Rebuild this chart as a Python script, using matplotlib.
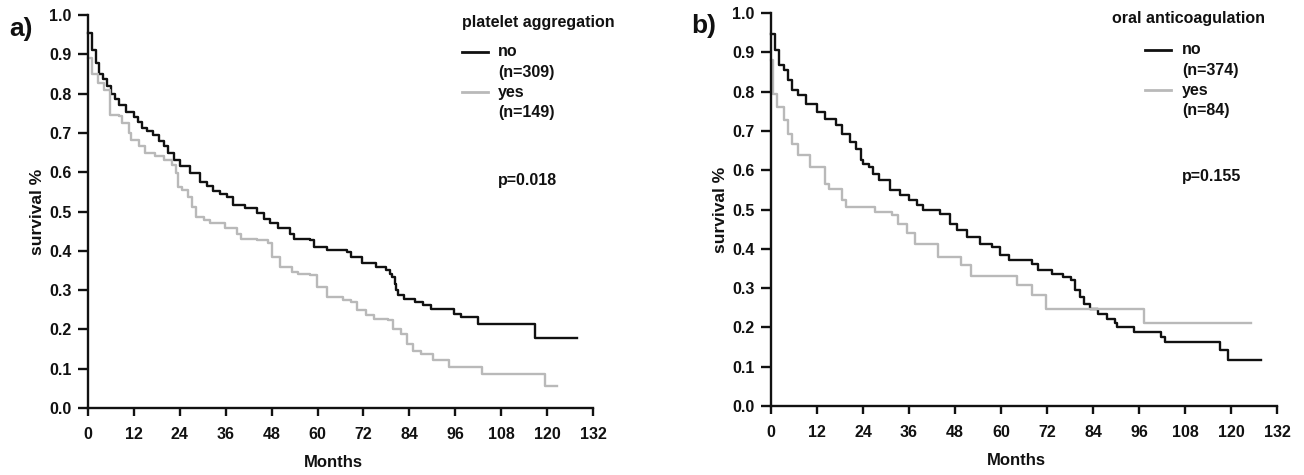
import numpy as np
import matplotlib
matplotlib.use("Agg")
import matplotlib.pyplot as plt

plt.rcParams['font.family'] = ['Liberation Sans', 'DejaVu Sans']
plt.rcParams['font.weight'] = 'bold'

W, H = 1304, 475

# ---- data (months, survival) ----
xticks = [0, 12, 24, 36, 48, 60, 72, 84, 96, 108, 120, 132]
yticks = [0.0, 0.1, 0.2, 0.3, 0.4, 0.5, 0.6, 0.7, 0.8, 0.9, 1.0]

# a) platelet aggregation
months_a_no = [0, 1, 2, 3, 4, 5, 6, 7, 8, 10, 12, 13, 14, 15.5, 17,
               18.5, 19.8, 20.8, 22.4, 24, 26.7, 29.4, 31, 32.6, 34.5,
               36.3, 38, 41, 44.3, 46, 47.5, 49.6, 52.8, 53.9, 58,
               59.2, 62.4, 67.8, 68.8, 71.5, 75.2, 77.9, 79, 79.5, 80.2,
               80.6, 81.1, 82.7, 85.4, 87.5, 89.7, 95.6, 97.6, 101.9, 116.8,
               127.7]
surv_a_no = [0.955, 0.91, 0.878, 0.85, 0.836, 0.82, 0.80, 0.785, 0.77, 0.752,
             0.74, 0.728, 0.712, 0.704, 0.695, 0.68, 0.666, 0.648, 0.631, 0.615,
             0.597, 0.576, 0.565, 0.551, 0.545, 0.538, 0.517, 0.508, 0.495, 0.48,
             0.47, 0.457, 0.444, 0.431, 0.427, 0.41, 0.402, 0.397, 0.385, 0.368,
             0.359, 0.351, 0.34, 0.334, 0.315, 0.30, 0.287, 0.278, 0.27, 0.261,
             0.253, 0.24, 0.231, 0.214, 0.179, 0.179]
months_a_yes = [0, 1, 2.7, 4.3, 5.7, 8, 9, 10.7, 11.2, 13.3,
                15, 17.6, 19.8, 22, 23, 23.5, 24.5, 26.2, 27.2, 28.3,
                30.4, 32, 35.8, 39, 40, 44.3, 47, 48, 50.2, 53.4,
                55, 58, 59.8, 62.4, 66.7, 68.8, 70.4, 72.6, 74.7, 78.5,
                79.6, 81.7, 83.3, 84.9, 87.1, 90.2, 94.4, 103, 119.5, 122.7]
surv_a_yes = [0.89, 0.85, 0.827, 0.81, 0.746, 0.742, 0.725, 0.70, 0.683, 0.666,
              0.649, 0.64, 0.631, 0.619, 0.597, 0.563, 0.555, 0.538, 0.512, 0.487,
              0.478, 0.47, 0.457, 0.444, 0.431, 0.427, 0.419, 0.385, 0.359, 0.346,
              0.342, 0.338, 0.308, 0.283, 0.274, 0.27, 0.249, 0.236, 0.227, 0.223,
              0.202, 0.189, 0.163, 0.146, 0.138, 0.121, 0.104, 0.087, 0.057, 0.057]

# b) oral anticoagulation
months_b_no = [0, 1.1, 2.2, 3.3, 4.4, 5.4, 7.1, 9.2, 12, 14.1,
               16.9, 18.5, 20.7, 22.3, 23.4, 24, 25.6, 26.7, 28.3, 31,
               33.7, 35.9, 38.1, 39.7, 44.1, 46.8, 48.4, 51.1, 54.4, 57.7,
               59.8, 62, 68, 69.6, 73.4, 76.2, 78.3, 79.4, 80.5, 81.6,
               83.2, 85.4, 87.6, 89.8, 90.3, 94.7, 101.7, 102.8, 117, 119.1,
               127.9]
surv_b_no = [0.947, 0.905, 0.867, 0.854, 0.829, 0.803, 0.791, 0.769, 0.748, 0.731,
             0.714, 0.693, 0.672, 0.655, 0.625, 0.617, 0.608, 0.591, 0.574, 0.549,
             0.536, 0.524, 0.511, 0.498, 0.489, 0.464, 0.447, 0.43, 0.413, 0.405,
             0.384, 0.371, 0.362, 0.345, 0.337, 0.328, 0.32, 0.294, 0.277, 0.26,
             0.248, 0.235, 0.222, 0.21, 0.201, 0.188, 0.176, 0.163, 0.142, 0.116,
             0.116]
months_b_yes = [0, 0.5, 1.6, 3.3, 4.4, 5.4, 7.1, 10.3, 14.1, 15.2,
                18.5, 19.6, 27.2, 31.6, 33.2, 35.4, 37.5, 43.5, 49.5, 52.2,
                64.2, 68, 71.8, 97.4, 125.1]
surv_b_yes = [0.88, 0.795, 0.761, 0.727, 0.693, 0.667, 0.638, 0.608, 0.566, 0.553,
              0.524, 0.507, 0.494, 0.486, 0.464, 0.439, 0.413, 0.379, 0.358, 0.332,
              0.307, 0.282, 0.248, 0.21, 0.21]

groups = ["no", "yes"]
titles = ["platelet aggregation", "oral anticoagulation"]
n_a = [309, 149]
n_b = [374, 84]
pvals = ["p=0.018", "p=0.155"]
panel_tags = ["a)", "b)"]

BLACK = "#111111"
GREY = "#b9b9b9"


def fx(x):
    return x / W


def fy(y):
    return 1 - y / H


def style_axes(ax):
    ax.set_xlim(0, 132)
    ax.set_ylim(0, 1)
    ax.set_xticks(xticks)
    ax.set_yticks(yticks)
    ax.set_yticklabels([f"{v:.1f}" for v in yticks])
    for s in ["top", "right"]:
        ax.spines[s].set_visible(False)
    for s in ["left", "bottom"]:
        ax.spines[s].set_linewidth(1.7)
        ax.spines[s].set_color(BLACK)
    ax.tick_params(axis="both", direction="out", width=1.7, color=BLACK,
                   labelsize=11.5, labelcolor=BLACK)
    ax.tick_params(axis="x", length=6, pad=8)
    ax.tick_params(axis="y", length=7, pad=5)
    for lab in ax.get_xticklabels() + ax.get_yticklabels():
        lab.set_fontweight("bold")
    ax.set_ylabel("survival %", fontsize=12.5, fontweight="bold", color=BLACK)
    ax.yaxis.set_label_coords(-0.085, 0.5)
    ax.set_xlabel("Months", fontsize=12, fontweight="bold", color=BLACK)
    ax.xaxis.set_label_coords(0.485, -0.12)


def draw_legend(fig, x_title, y_title, x_line, x_text, y_rows, y_p, title, ns, pval):
    fig.text(fx(x_title), fy(y_title), title, fontsize=11.5, fontweight="bold",
             color=BLACK, ha="left", va="center")
    colors = [BLACK, GREY]
    for i, (g, n, c) in enumerate(zip(groups, ns, colors)):
        yr = y_rows[2 * i]
        fig.add_artist(plt.Line2D([fx(x_line), fx(x_line + 26)], [fy(yr), fy(yr)],
                                  color=c, lw=2, transform=fig.transFigure))
        fig.text(fx(x_text), fy(yr), g, fontsize=11.5, fontweight="bold",
                 color=BLACK, ha="left", va="center")
        fig.text(fx(x_text), fy(y_rows[2 * i + 1]), f"(n={n})", fontsize=11.5,
                 fontweight="bold", color=BLACK, ha="left", va="center")
    fig.text(fx(x_text), fy(y_p), pval, fontsize=11.5, fontweight="bold",
             color=BLACK, ha="left", va="center")


fig = plt.figure(figsize=(W / 100, H / 100), dpi=100)
fig.patch.set_facecolor("white")

ax_a = fig.add_axes([fx(88), fy(408), (593 - 88) / W, (408 - 15) / H])
ax_b = fig.add_axes([fx(771), fy(406), (1277 - 771) / W, (406 - 13) / H])

ax_a.step(months_a_no, surv_a_no, where="post", color=BLACK, lw=1.7, clip_on=False)
ax_a.step(months_a_yes, surv_a_yes, where="post", color=GREY, lw=1.7, clip_on=False)
ax_b.step(months_b_no, surv_b_no, where="post", color=BLACK, lw=1.7, clip_on=False)
ax_b.step(months_b_yes, surv_b_yes, where="post", color=GREY, lw=1.7, clip_on=False)

for ax in (ax_a, ax_b):
    style_axes(ax)

draw_legend(fig, 462, 23, 462, 498, [52, 72, 92, 113], 180, titles[0], n_a, pvals[0])
draw_legend(fig, 1112, 19, 1145, 1182, [50, 70, 90, 110], 177, titles[1], n_b, pvals[1])

fig.text(fx(9), fy(29), panel_tags[0], fontsize=19, fontweight="bold", color=BLACK,
         ha="left", va="center")
fig.text(fx(691), fy(26), panel_tags[1], fontsize=19, fontweight="bold", color=BLACK,
         ha="left", va="center")

fig.savefig("out.png", dpi=100, facecolor="white")
